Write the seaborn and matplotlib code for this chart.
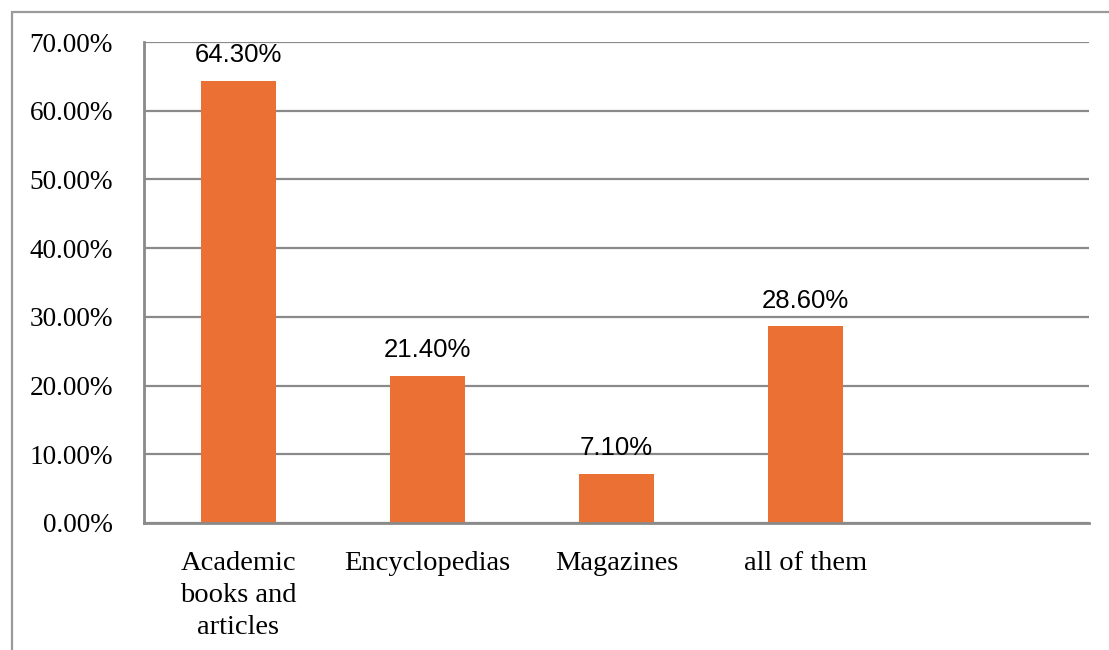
import matplotlib
matplotlib.use("Agg")
import matplotlib.pyplot as plt
from matplotlib.lines import Line2D
from matplotlib.ticker import PercentFormatter, FixedLocator, NullFormatter
import seaborn as sns

# Source types used and the share of respondents for each
categories = ["Academic\nbooks and\narticles", "Encyclopedias", "Magazines", "all of them"]
shares = [0.643, 0.214, 0.071, 0.286]
y_ticks = [0.0, 0.1, 0.2, 0.3, 0.4, 0.5, 0.6, 0.7]

BAR = "#EA7133"
GRID = "#8A8A8A"
FRAME = "#9A9A9A"

sns.set_style("white")
plt.rcParams["font.family"] = ["Liberation Serif", "DejaVu Serif"]
plt.rcParams["text.color"] = "black"
plt.rcParams["xtick.color"] = "black"
plt.rcParams["ytick.color"] = "black"

W, H = 1109, 650
fig = plt.figure(figsize=(W / 100, H / 100), dpi=100)
ax = fig.add_axes([144 / W, 1 - 523 / H, (1089 - 144) / W, (523 - 42) / H])

sns.barplot(x=categories, y=shares, color=BAR, width=0.4, saturation=1,
            edgecolor="none", linewidth=0, ax=ax)

# five category slots; the last one stays empty
ax.set_xlim(-0.5, 4.5)
ax.set_ylim(0, 0.7)
ax.set_yticks(y_ticks)
ax.yaxis.set_major_formatter(PercentFormatter(xmax=1, decimals=2))

# category boundaries carry the tick marks, labels sit at the slot centres
ax.xaxis.set_major_locator(FixedLocator([-0.5, 0.5, 1.5, 2.5, 3.5, 4.5]))
ax.xaxis.set_major_formatter(NullFormatter())
ax.xaxis.set_minor_locator(FixedLocator(range(len(categories))))
ax.set_xticklabels(categories, minor=True)
ax.tick_params(axis="x", which="major", length=8, width=2, color=GRID, direction="out")
ax.tick_params(axis="x", which="minor", length=0, pad=20, labelsize=20.5,
               labelcolor="black")
ax.tick_params(axis="y", which="major", length=8, width=2, color=GRID, direction="out",
               pad=14.3, labelsize=19.6, labelcolor="black")
for lbl in ax.get_xticklabels(minor=True):
    lbl.set_linespacing(1.38)

ax.grid(axis="y", color=GRID, linewidth=1.6)
ax.set_axisbelow(True)
for side in ["top", "right"]:
    ax.spines[side].set_visible(False)
for side in ["left", "bottom"]:
    ax.spines[side].set_color(GRID)
    ax.spines[side].set_linewidth(2)
ax.set_xlabel("")
ax.set_ylabel("")

# value labels above each bar
for i, v in enumerate(shares):
    ax.annotate(f"{v * 100:.2f}%", (i, v), xytext=(0, 10), textcoords="offset points",
                ha="center", va="bottom", fontsize=18.5,
                family=["Liberation Sans", "DejaVu Sans"], color="black")

# outer frame along the left and top edges
fig.add_artist(Line2D([12 / W, 12 / W], [0, 1 - 12 / H], transform=fig.transFigure,
                      color=FRAME, linewidth=1.6))
fig.add_artist(Line2D([12 / W, 1], [1 - 12 / H, 1 - 12 / H], transform=fig.transFigure,
                      color=FRAME, linewidth=1.6))

fig.savefig("out.png", dpi=100, facecolor="white")
